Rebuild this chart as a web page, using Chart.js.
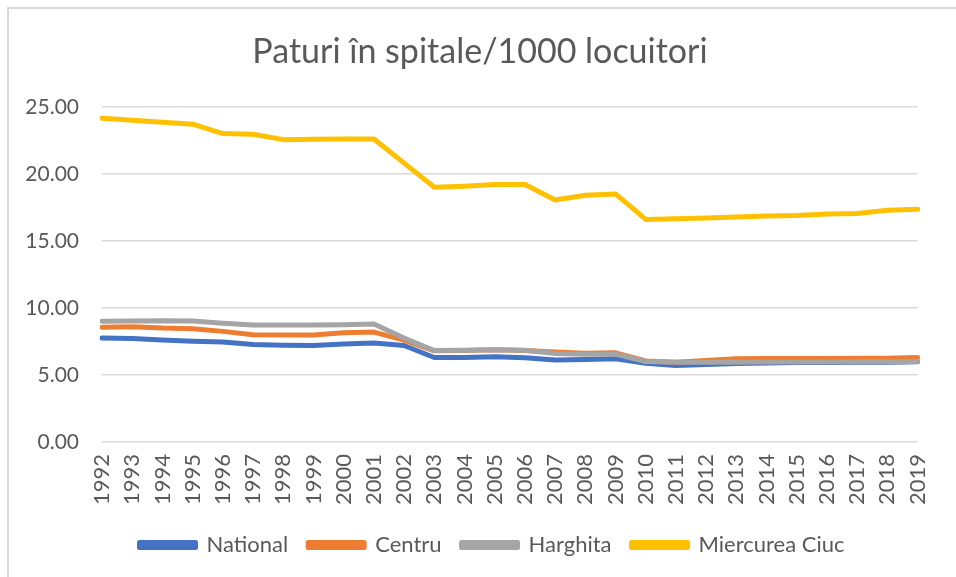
<!DOCTYPE html>
<html>
<head>
<meta charset="utf-8">
<script src="https://cdn.jsdelivr.net/npm/chart.js@4.4.1/dist/chart.umd.min.js"></script>
<style>
  html, body { margin: 0; padding: 0; background: #fff; overflow: hidden; }
  #wrap { position: relative; width: 956px; height: 577px; overflow: hidden; }
  #frame { position: absolute; left: 7px; top: 7px; width: 1000px; height: 1000px;
           border: 2px solid #d9d9d9; box-sizing: border-box; }
  canvas { position: absolute; left: 0; top: 0; }
</style>
</head>
<body>
<div id="wrap">
  <div id="frame"></div>
  <canvas id="chart" width="956" height="577"></canvas>
</div>
<script>
// Hospital beds per 1000 inhabitants, 1992-2019
const years = ["1992","1993","1994","1995","1996","1997","1998","1999","2000","2001",
               "2002","2003","2004","2005","2006","2007","2008","2009","2010","2011",
               "2012","2013","2014","2015","2016","2017","2018","2019"];

const national = [7.75, 7.72, 7.60, 7.52, 7.45, 7.28, 7.22, 7.20, 7.30, 7.38,
                  7.20, 6.30, 6.30, 6.35, 6.28, 6.12, 6.15, 6.20, 5.88, 5.70,
                  5.78, 5.85, 5.90, 5.92, 5.93, 5.95, 5.95, 5.98];

const centru = [8.55, 8.60, 8.50, 8.45, 8.25, 8.00, 7.98, 7.98, 8.15, 8.20,
                7.60, 6.80, 6.82, 6.88, 6.82, 6.72, 6.62, 6.65, 6.05, 5.95,
                6.08, 6.20, 6.22, 6.22, 6.22, 6.25, 6.25, 6.30];

const harghita = [9.00, 9.02, 9.05, 9.03, 8.85, 8.72, 8.72, 8.72, 8.75, 8.80,
                  7.75, 6.82, 6.85, 6.88, 6.85, 6.60, 6.55, 6.55, 6.00, 5.95,
                  5.95, 5.95, 5.97, 5.97, 5.97, 5.98, 5.98, 6.00];

const miercureaCiuc = [24.15, 24.00, 23.85, 23.70, 23.00, 22.95, 22.55, 22.58, 22.60, 22.60,
                       20.80, 19.00, 19.08, 19.20, 19.20, 18.05, 18.40, 18.50, 16.60, 16.65,
                       16.70, 16.78, 16.85, 16.90, 17.00, 17.05, 17.28, 17.35];

const yTicks = [0, 5, 10, 15, 20, 25];

const textColor = "#595959";
const gridColor = "#d9d9d9";
const fontFamily = 'Lato, "Liberation Sans", sans-serif';

function series(label, data, color, order) {
  return {
    label, data,
    borderColor: color,
    backgroundColor: color,
    borderWidth: 5,
    borderCapStyle: "round",
    borderJoinStyle: "round",
    pointRadius: 0,
    pointHoverRadius: 0,
    tension: 0,
    fill: false,
    order
  };
}

// Nudge the legend row slightly right so it sits under the plot's centre
const legendShift = {
  id: "legendShift",
  afterLayout(chart) {
    if (chart.legend) {
      chart.legend.left += 12;
      chart.legend.right += 12;
    }
  }
};

new Chart(document.getElementById("chart"), {
  type: "line",
  data: {
    labels: years,
    datasets: [
      series("National", national, "#4472C4", 4),
      series("Centru", centru, "#ED7D31", 3),
      series("Harghita", harghita, "#A5A5A5", 2),
      series("Miercurea Ciuc", miercureaCiuc, "#FFC000", 1)
    ]
  },
  plugins: [legendShift],
  options: {
    responsive: false,
    animation: false,
    layout: { padding: { left: 20, right: 16, top: 0, bottom: 11 } },
    plugins: {
      title: {
        display: true,
        text: "Paturi în spitale/1000 locuitori",
        color: textColor,
        font: { family: fontFamily, size: 34, weight: "normal" },
        padding: { top: 32, bottom: 34 }
      },
      legend: {
        position: "bottom",
        labels: {
          color: textColor,
          font: { family: fontFamily, size: 22 },
          boxWidth: 56,
          boxHeight: 5,
          padding: 20,
          sort: (a, b) => a.datasetIndex - b.datasetIndex
        }
      },
      tooltip: { enabled: false }
    },
    scales: {
      x: {
        grid: { display: false, drawTicks: false },
        border: { display: false },
        ticks: {
          color: textColor,
          font: { family: fontFamily, size: 22 },
          minRotation: 90,
          maxRotation: 90,
          autoSkip: false,
          padding: 12
        },
        afterFit: s => { s.height = 72; }
      },
      y: {
        min: 0,
        max: 25,
        afterBuildTicks: s => { s.ticks = yTicks.map(v => ({ value: v })); },
        grid: { color: gridColor, lineWidth: 1.5, drawTicks: false },
        border: { display: false },
        ticks: {
          color: textColor,
          font: { family: fontFamily, size: 21 },
          padding: 23,
          callback: v => Number(v).toFixed(2)
        },
        afterFit: s => { s.width = 82; }
      }
    }
  }
});
</script>
</body>
</html>
